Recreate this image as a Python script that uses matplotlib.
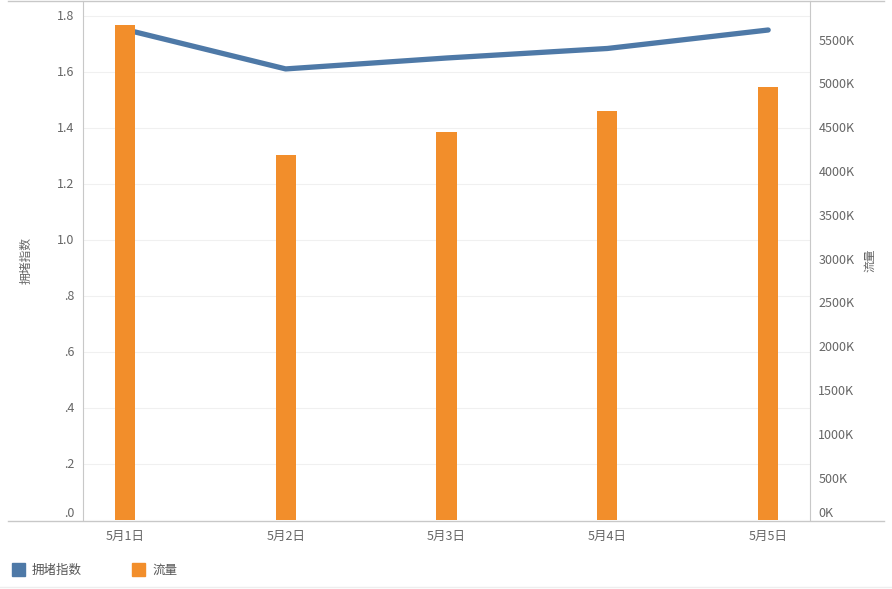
import matplotlib
matplotlib.use("Agg")
import matplotlib.pyplot as plt
import matplotlib.transforms as mtransforms
from matplotlib.lines import Line2D
from matplotlib.patches import Rectangle
from matplotlib.ticker import FixedLocator, FuncFormatter

plt.rcParams['font.family'] = ['Noto Sans CJK SC', 'DejaVu Sans']

# Data
dates = ['5月1日', '5月2日', '5月3日', '5月4日', '5月5日']
congestion = [1.752, 1.611, 1.650, 1.684, 1.750]
traffic_k = [5651, 4167, 4429, 4669, 4943]

left_ticks = [0.0, 0.2, 0.4, 0.6, 0.8, 1.0, 1.2, 1.4, 1.6, 1.8]
right_ticks = [0, 500, 1000, 1500, 2000, 2500, 3000, 3500, 4000, 4500, 5000, 5500]

BLUE = '#4e79a7'
ORANGE = '#f28e2b'
TICK = '#666666'
GRID = '#f0f0f0'
SPINE = '#c8c8c8'

W, H = 892, 589
fig = plt.figure(figsize=(W / 100, H / 100), dpi=100)

ax_l, ax_r, ax_t, ax_b = 83, 810, 1, 520
ax = fig.add_axes([ax_l / W, 1 - ax_b / H, (ax_r - ax_l) / W, (ax_b - ax_t) / H])
ax2 = ax.twinx()

x = list(range(len(dates)))

# bars on the secondary axis sit above the line
ax.set_zorder(1)
ax2.set_zorder(2)
ax.patch.set_visible(True)
ax2.patch.set_visible(False)

ax.plot(x, congestion, color=BLUE, lw=3.8, solid_capstyle='round',
        solid_joinstyle='round', zorder=3)
ax2.bar(x, traffic_k, width=0.125, color=ORANGE, zorder=3)

ax.set_xlim(-0.26, len(dates) - 1 + 0.26)
ax.set_ylim(0, 1.8 + 15 / 280)
ax2.set_ylim(0, 5500 + 37 / 0.0876)

ax.yaxis.set_major_locator(FixedLocator(left_ticks))
ax.yaxis.set_major_formatter(FuncFormatter(lambda v, p: ('%.1f' % v).lstrip('0') if v < 1 else '%.1f' % v))
ax2.yaxis.set_major_locator(FixedLocator(right_ticks))
ax2.yaxis.set_major_formatter(FuncFormatter(lambda v, p: '%dK' % v))

ax.set_xticks(x)
ax.set_xticklabels(dates)

ax.grid(axis='y', color=GRID, lw=0.8)
ax.set_axisbelow(True)

for a in (ax, ax2):
    for s in a.spines.values():
        s.set_visible(False)
    a.tick_params(length=0, colors=TICK, labelsize=9)

ax.spines['left'].set_visible(True)
ax.spines['left'].set_color(SPINE)
ax2.spines['right'].set_visible(True)
ax2.spines['right'].set_color(SPINE)

ax.tick_params(axis='y', pad=6)
ax2.tick_params(axis='y', pad=6)
ax.tick_params(axis='x', pad=7)

fig.canvas.draw()
for lbl in ax.get_yticklabels():
    lbl.set_verticalalignment('center')
ax.get_yticklabels()[0].set_verticalalignment('bottom')
shift_down = mtransforms.ScaledTranslation(0, -3 / 100, fig.dpi_scale_trans)
for lbl in ax2.get_yticklabels()[1:]:
    lbl.set_verticalalignment('center')
    lbl.set_transform(lbl.get_transform() + shift_down)
ax2.get_yticklabels()[0].set_verticalalignment('bottom')

ax.set_ylabel('拥堵指数', fontsize=8.5, color=TICK)
ax.yaxis.set_label_coords((33 - ax_l) / (ax_r - ax_l), 0.5)
ax2.set_ylabel('流量', fontsize=8.5, color=TICK)
ax2.yaxis.set_label_coords((863 - ax_l) / (ax_r - ax_l), 0.5)

# frame lines across the full width
fig.add_artist(Line2D([8 / W, 884 / W], [1 - 0.8 / H, 1 - 0.8 / H], color=SPINE, lw=1))
fig.add_artist(Line2D([8 / W, 884 / W], [1 - 521 / H, 1 - 521 / H], color=SPINE, lw=1))
fig.add_artist(Line2D([0, 1], [1 - 587 / H, 1 - 587 / H], color='#eeeeee', lw=1))

# legend
fig.add_artist(Rectangle((12 / W, 1 - 576 / H), 13 / W, 13 / H, color=BLUE, transform=fig.transFigure))
fig.text(32 / W, 1 - 570 / H, '拥堵指数', fontsize=9, color='#555555', va='center')
fig.add_artist(Rectangle((132 / W, 1 - 576 / H), 13 / W, 13 / H, color=ORANGE, transform=fig.transFigure))
fig.text(152 / W, 1 - 570 / H, '流量', fontsize=9, color='#555555', va='center')

fig.savefig('out.png', dpi=100)
